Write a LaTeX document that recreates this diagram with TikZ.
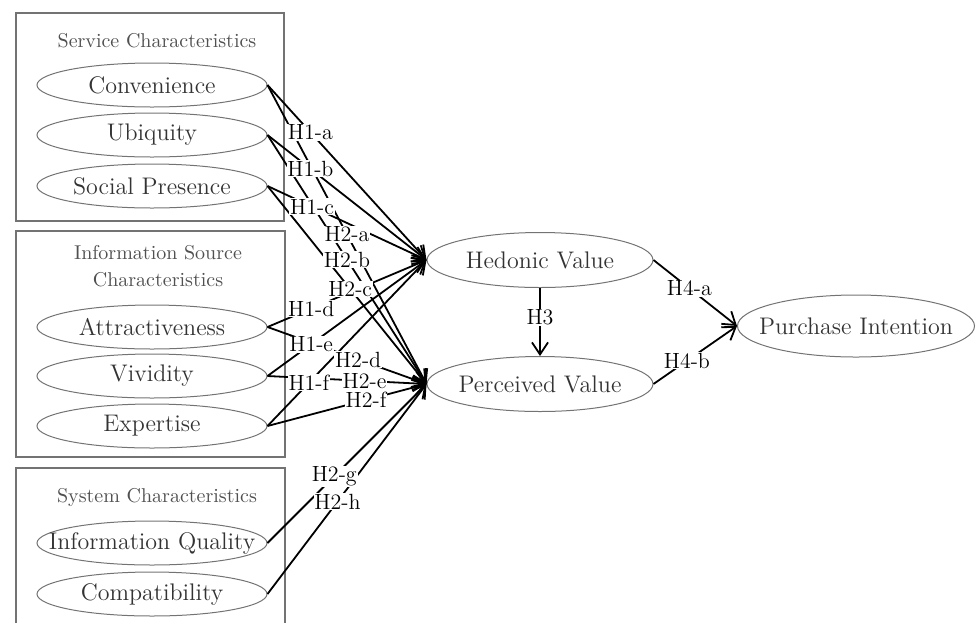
\documentclass[tikz,border=0pt]{standalone}
\usepackage{amsmath}
\usetikzlibrary{arrows.meta, shapes.geometric}
\definecolor{edge}{gray}{0.45}
\definecolor{ink}{gray}{0.2}
\newcommand{\zw}[1]{\makebox[0pt]{#1}}
\tikzset{%
    grp/.style={draw=edge, line width=0.6pt},
    ttl/.style={text=edge!70!black, font=\fontsize{10}{13.5}\selectfont, align=center, inner sep=0pt},
    var/.style={ellipse, draw=edge, line width=0.5pt, inner sep=0pt, minimum width=115pt, minimum height=22pt, text=ink, font=\fontsize{12}{14}\selectfont},
    varb/.style={var, minimum width=113pt, minimum height=27.5pt},
    pth/.style={line width=0.9pt, -{Straight Barb[length=6pt,width=8pt]}},
    hyp/.style={rectangle, fill=white, inner sep=0.4pt, font=\fontsize{11}{12}\selectfont},
}
\def\links{conv/hed/0.27/H1-a, ubiq/hed/0.27/H1-b, soc/hed/0.28/H1-c,
    conv/per/0.5/H2-a, ubiq/per/0.5/H2-b, soc/per/0.52/H2-c,
    attr/hed/0.275/H1-d, viv/hed/0.275/H1-e, expt/hed/0.26/H1-f,
    attr/per/0.57/H2-d, viv/per/0.61/H2-e, expt/per/0.62/H2-f,
    iq/per/0.42/H2-g, comp/per/0.44/H2-h}
\begin{document}
\begin{tikzpicture}[x=0.5pt, y=-0.5pt]
    \useasboundingbox (0,0) rectangle (976,623);
    % groups
    \draw [grp] (16,13) rectangle (284,221);
    \draw [grp] (16,231) rectangle (285,457);
    \draw [grp] (16,623) -- (16,468) -- (285,468) -- (285,623);
    \node [ttl] (t1) at (157,41) {Service Characteristics};
    \node [ttl] (t2) at (158,266) {Information Source\\Characteristics};
    \node [ttl] (t3) at (157,497) {System Characteristics};
    \node [var] (conv) at (152,85) {\zw{Convenience}};
    \node [var] (ubiq) at (152,135) {\zw{Ubiquity}};
    \node [var] (soc) at (152,186) {\zw{Social Presence}};
    \node [var] (attr) at (152,327) {\zw{Attractiveness}};
    \node [var] (viv) at (152,376) {\zw{Vividity}};
    \node [var] (expt) at (152,426) {\zw{Expertise}};
    \node [var] (iq) at (152,543) {\zw{Information Quality}};
    \node [var] (comp) at (152,594) {\zw{Compatibility}};
    % mediators and outcome
    \node [varb] (hed) at (540,260) {\zw{Hedonic Value}};
    \node [varb] (per) at (540,384) {\zw{Perceived Value}};
    \node [var, minimum width=118.5pt, minimum height=31pt] (pur) at (856,326) {\zw{Purchase Intention}};
    % paths, labels on top
    \foreach \src/\dst/\ps/\lab in \links
        \draw [pth] (\src.east) -- (\dst.west);
    \foreach \src/\dst/\ps/\lab in \links
        \path (\src.east) -- node [hyp, pos=\ps] {\lab} (\dst.west);
    \draw [pth] (hed.south) -- node [hyp, pos=0.43] {H3} (per.north);
    \draw [pth] (hed.east) -- node [hyp, pos=0.43] {H4-a} (pur.west);
    \draw [pth] (per.east) -- node [hyp, pos=0.4] {H4-b} (pur.west);
\end{tikzpicture}
\end{document}
